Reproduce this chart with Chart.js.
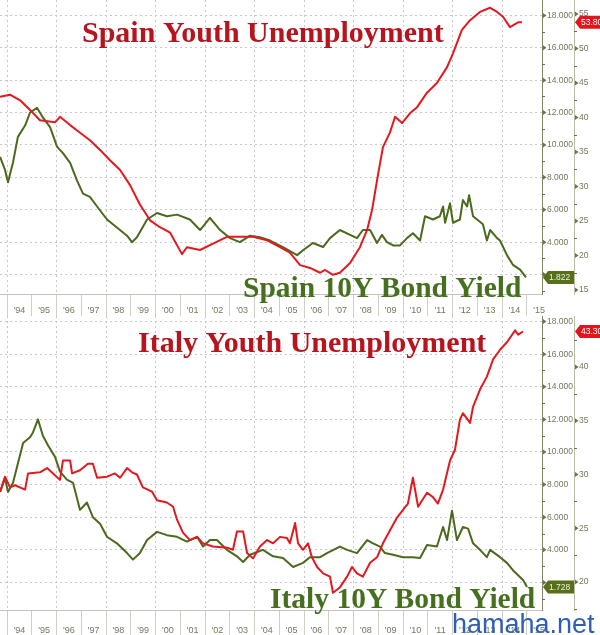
<!DOCTYPE html>
<html><head><meta charset="utf-8">
<script src="https://cdn.jsdelivr.net/npm/chart.js@4.4.1/dist/chart.umd.min.js"></script>
<style>
html,body{margin:0;padding:0;background:#fff;width:600px;height:635px;overflow:hidden}
canvas{position:absolute;left:0}
#top{top:0}
#bot{top:316px}
</style></head><body>
<canvas id="top" width="600" height="316"></canvas>
<canvas id="bot" width="600" height="319"></canvas>
<script>
// ---------------- DATA ----------------
const yearTickValues = [1994,1995,1996,1997,1998,1999,2000,2001,2002,2003,2004,2005,2006,2007,2008,2009,2010,2011,2012,2013,2014,2015];
const yearTickLabels = ["'94","'95","'96","'97","'98","'99","'00","'01","'02","'03","'04","'05","'06","'07","'08","'09","'10","'11","'12","'13","'14","'15"];

const spainUnempYears = [1993.72,1994.12,1994.53,1994.93,1995.33,1995.94,1996.14,1996.55,1996.95,1997.35,1997.76,1998.16,1998.57,1998.97,1999.37,1999.78,2000.18,2000.59,2001.07,2001.27,2001.80,2002.20,2002.89,2003.41,2003.94,2004.51,2005.03,2005.43,2005.84,2006.24,2006.65,2006.85,2007.17,2007.45,2007.86,2008.26,2008.55,2008.75,2008.95,2009.19,2009.47,2009.68,2009.96,2010.28,2010.57,2010.97,2011.37,2011.78,2012.02,2012.38,2012.71,2013.11,2013.52,2013.80,2014.04,2014.32,2014.65,2014.81];
const spainUnempRate = [43.0,43.3,42.5,41.1,39.6,39.3,40.1,38.9,37.8,36.7,35.3,33.8,32.4,30.2,27.4,25.1,24.1,23.3,20.2,21.2,20.8,21.5,22.7,22.7,22.7,22.2,21.2,20.4,18.6,18.2,17.5,17.9,17.2,17.5,18.9,21.2,23.7,26.6,30.9,35.7,37.8,40.1,39.2,40.6,41.5,43.6,45.0,47.3,49.3,52.7,54.1,55.3,55.9,55.3,54.6,53.1,53.8,53.8];

const spainYieldYears = [1993.72,1993.92,1994.04,1994.24,1994.44,1994.73,1994.93,1995.21,1995.45,1995.74,1996.02,1996.26,1996.55,1996.83,1997.07,1997.35,1997.64,1998.04,1998.44,1998.85,1999.05,1999.25,1999.66,2000.06,2000.46,2000.87,2001.39,2001.80,2002.20,2002.61,2003.01,2003.41,2003.82,2004.22,2004.63,2005.15,2005.72,2005.96,2006.36,2006.77,2007.05,2007.45,2007.86,2008.14,2008.38,2008.67,2008.95,2009.15,2009.35,2009.60,2009.88,2010.16,2010.40,2010.69,2010.89,2011.21,2011.49,2011.62,2011.70,2011.90,2012.02,2012.30,2012.42,2012.59,2012.67,2012.83,2013.23,2013.39,2013.52,2013.80,2013.92,2014.20,2014.44,2014.73,2014.97];
const spainYield = [9.26,8.46,7.7,8.9,10.5,11.2,12.0,12.3,11.7,11.1,9.9,9.5,8.9,7.8,7.0,6.8,6.2,5.4,4.9,4.4,4.0,4.3,5.4,5.8,5.6,5.7,5.4,4.75,5.5,4.75,4.25,4.0,4.4,4.3,4.1,3.7,3.2,3.5,3.95,3.7,4.25,4.75,4.45,4.25,4.75,4.75,3.95,4.45,4.0,3.8,3.8,4.25,4.55,4.1,5.6,5.4,5.6,6.2,5.2,6.4,5.2,5.4,6.6,6.2,6.9,5.6,5.1,4.1,4.75,4.25,4.1,3.2,2.6,2.3,1.822];

const italyUnempYears = [1993.72,1993.92,1994.12,1994.32,1994.73,1994.85,1995.33,1995.62,1995.86,1996.14,1996.26,1996.55,1996.63,1996.95,1997.27,1997.47,1997.64,1998.04,1998.36,1998.57,1998.85,1999.05,1999.25,1999.49,1999.86,2000.06,2000.46,2000.71,2000.87,2001.11,2001.39,2001.68,2001.92,2002.32,2002.89,2003.13,2003.29,2003.54,2003.70,2003.94,2004.22,2004.51,2004.75,2005.03,2005.31,2005.43,2005.64,2005.76,2005.96,2006.16,2006.32,2006.53,2006.77,2007.05,2007.17,2007.45,2007.74,2007.94,2008.14,2008.38,2008.67,2008.95,2009.19,2009.47,2009.76,2010.00,2010.20,2010.40,2010.61,2010.97,2011.21,2011.41,2011.62,2011.90,2012.10,2012.30,2012.42,2012.71,2012.83,2013.11,2013.39,2013.64,2013.92,2014.20,2014.53,2014.65,2014.85];
const italyUnempRate = [28.4,29.8,28.8,29.0,28.6,30.1,30.2,30.6,30.1,29.5,31.3,31.3,30.1,30.4,31.0,31.0,29.7,29.8,30.1,29.7,30.6,30.2,30.0,28.8,28.4,27.6,27.4,27.0,25.8,24.6,23.9,24.2,23.6,23.3,23.2,23.0,24.7,24.7,22.7,22.2,23.3,23.9,23.6,24.2,24.1,23.6,25.5,23.6,23.0,23.6,22.3,21.4,20.8,20.5,19.0,19.5,20.5,21.4,20.8,20.5,21.8,22.3,23.6,24.8,26.0,26.7,27.3,29.7,27.0,28.3,27.9,27.3,28.6,31.3,32.3,35.1,35.7,34.8,36.3,37.9,39.1,40.7,41.6,42.3,43.4,43.0,43.3];

const italyYieldYears = [1993.72,1993.92,1994.04,1994.24,1994.44,1994.65,1994.93,1995.05,1995.25,1995.45,1995.66,1995.94,1996.14,1996.42,1996.67,1996.95,1997.23,1997.47,1997.76,1998.04,1998.44,1998.85,1999.09,1999.37,1999.66,2000.06,2000.46,2000.87,2001.27,2001.68,2001.92,2002.20,2002.48,2002.89,2003.29,2003.54,2003.82,2004.34,2004.75,2005.15,2005.56,2005.96,2006.24,2006.65,2006.93,2007.45,2007.74,2008.14,2008.55,2008.79,2009.07,2009.27,2009.60,2010.00,2010.40,2010.69,2010.97,2011.37,2011.62,2011.78,2011.98,2012.18,2012.42,2012.63,2012.83,2013.11,2013.39,2013.52,2013.92,2014.20,2014.44,2014.85,2015.01];
const italyYield = [7.55,8.4,7.55,8.1,9.3,10.55,10.9,11.2,12.0,11.0,10.4,9.7,8.8,8.3,8.1,6.45,6.9,6.0,5.6,4.8,4.4,3.8,3.4,3.8,4.6,5.1,4.9,4.8,4.5,4.8,4.2,4.6,4.6,4.0,3.6,3.25,3.7,4.0,3.6,3.5,2.95,3.2,3.55,3.55,3.8,4.2,4.0,3.8,4.6,4.4,4.2,3.8,3.7,3.55,3.55,3.5,4.3,4.2,5.4,4.6,6.4,4.6,5.4,5.3,4.4,4.0,3.55,4.0,3.55,3.2,2.75,2.15,1.728];

const yieldMajorTicks = [2,4,6,8,10,12,14,16,18];
const yieldMinorTicks = [1,3,5,7,9,11,13,15,17];
const spainUnempMajorTicks = [15,20,25,30,35,40,45,50,55];
const spainUnempMinorTicks = [17.5,22.5,27.5,32.5,37.5,42.5,47.5,52.5];
const italyUnempMajorTicks = [20,25,30,35,40];
const italyUnempMinorTicks = [17.5,22.5,27.5,32.5,37.5,42.5];

// ---------------- STYLE ----------------
const RED = '#e3191f';
const GREEN = '#4b6a1d';
const TITLE_RED = '#b8141d';
const TITLE_GREEN = '#46701f';
const AXIS_TXT = '#76765a';
const TICK_FONT = {family:'"Liberation Sans", Arial, sans-serif', size:8.5};
const X_MIN = 1993.717, X_MAX = 2015.616;

function pts(xs, ys){ return xs.map((x,i)=>({x:x, y:ys[i]})); }

function makeDecor(d){
  return {
    id:'decor',
    afterDraw(chart){
      const ctx = chart.ctx;
      d.marks.forEach(m=>{
        const s = chart.scales[m.axis];
        ctx.save();
        ctx.fillStyle = m.color; ctx.strokeStyle = m.color; ctx.lineWidth = 1;
        m.major.forEach(v=>{
          const y = s.getPixelForValue(v);
          ctx.beginPath(); ctx.moveTo(s.left+1, y-2.5); ctx.lineTo(s.left+4.5, y); ctx.lineTo(s.left+1, y+2.5); ctx.closePath(); ctx.fill();
        });
        m.minor.forEach(v=>{
          const y = Math.round(s.getPixelForValue(v))+0.5;
          ctx.beginPath(); ctx.moveTo(s.left, y); ctx.lineTo(s.left+3, y); ctx.stroke();
        });
        ctx.restore();
      });
      d.titles.forEach(t=>{
        ctx.save(); ctx.font = t.font; ctx.fillStyle = t.color;
        ctx.textBaseline='alphabetic'; ctx.textAlign='left';
        ctx.fillText(t.text, t.x, t.y); ctx.restore();
      });
      d.tags.forEach(g=>{
        const s = chart.scales[g.axis];
        const y = s.getPixelForValue(g.value);
        const l = s.left + 1, r = s.right, h = 6.5;
        ctx.save(); ctx.fillStyle = g.bg;
        ctx.beginPath(); ctx.moveTo(l, y); ctx.lineTo(l+5, y-h); ctx.lineTo(r, y-h); ctx.lineTo(r, y+h); ctx.lineTo(l+5, y+h); ctx.closePath(); ctx.fill();
        ctx.fillStyle = g.fg; ctx.font = '8.5px "Liberation Sans", Arial, sans-serif';
        ctx.textBaseline='middle'; ctx.textAlign='left';
        ctx.fillText(g.text, l+6, y+0.5); ctx.restore();
      });
    }
  };
}

function makeChart(id, o){
  const lastYield = o.yY[o.yY.length-1];
  const lastUnemp = o.uY[o.uY.length-1];
  return new Chart(document.getElementById(id), {
    type:'line',
    data:{ datasets:[
      {data: pts(o.uX, o.uY), yAxisID:'u', borderColor:RED, borderWidth:2, pointRadius:0, tension:0, borderJoinStyle:'round'},
      {data: pts(o.yX, o.yY), yAxisID:'y', borderColor:GREEN, borderWidth:2, pointRadius:0, tension:0, borderJoinStyle:'round'}
    ]},
    options:{
      responsive:false, animation:false, events:[],
      layout:{padding:0},
      plugins:{legend:{display:false}, tooltip:{enabled:false}},
      scales:{
        x:{
          type:'linear', position:'bottom', min:X_MIN, max:X_MAX,
          afterBuildTicks: s=>{ s.ticks = yearTickValues.map(v=>({value:v})); },
          afterFit: s=>{ s.height = o.xH; s.paddingLeft = 0; s.paddingRight = 0; },
          ticks:{ autoSkip:false, maxRotation:0, minRotation:0, labelOffset:12.4, padding:o.xPad, color:AXIS_TXT, font:{family:'"Liberation Sans", Arial, sans-serif', size:9},
            callback: v=>{ const i = yearTickValues.indexOf(v); return i>=0 ? yearTickLabels[i] : ''; } },
          grid:{ color: c=> (c.tick && c.tick.value % 2 === 0) ? '#c8c8c8' : 'rgba(0,0,0,0)', lineWidth:1, tickColor:'#cfcfc4', tickLength:o.xH, tickBorderDash:[], drawTicks:true },
          border:{ display:true, color:'#c4c4bc', width:1, dash:[2,3] }
        },
        y:{
          type:'linear', position:'right', min:o.yMin, max:o.yMax,
          afterBuildTicks: s=>{ s.ticks = yieldMajorTicks.map(v=>({value:v})); },
          afterFit: s=>{ s.width = 32; s.paddingTop = 0; s.paddingBottom = 0; },
          ticks:{ padding:5, color:AXIS_TXT, font:TICK_FONT, callback: v=> (Math.abs(v - lastYield) < 0.7 ? '' : Number(v).toFixed(3)) },
          grid:{ color:'#c8c8c8', lineWidth:1, drawTicks:false },
          border:{ display:true, color:'#85856a', width:1, dash:[2,3] }
        },
        u:{
          type:'linear', position:'right', min:o.uMin, max:o.uMax,
          afterBuildTicks: s=>{ s.ticks = o.uMajor.map(v=>({value:v})); },
          afterFit: s=>{ s.width = 26; s.paddingTop = 0; s.paddingBottom = 0; },
          ticks:{ padding:5, color:AXIS_TXT, font:TICK_FONT, callback: v=> String(v) },
          grid:{ drawOnChartArea:false, drawTicks:false },
          border:{ display:true, color:'#bdbda6', width:1 }
        }
      }
    },
    plugins:[makeDecor({
      marks:[
        {axis:'y', major:yieldMajorTicks, minor:yieldMinorTicks, color:'#6f6f52'},
        {axis:'u', major:o.uMajor, minor:o.uMinor, color:'#6f6f52'}
      ],
      titles:o.titles,
      tags:[
        {axis:'u', value:lastUnemp, text:lastUnemp.toFixed(2), bg:'#e2141c', fg:'#ffffff'},
        {axis:'y', value:lastYield, text:lastYield.toFixed(3), bg:'#566f1a', fg:'#eef0d8'}
      ]
    })]
  });
}

const serif30 = 'bold 30px "Liberation Serif", "Times New Roman", serif';
const serif29 = 'bold 29.5px "Liberation Serif", "Times New Roman", serif';

makeChart('top', {
  uX:spainUnempYears, uY:spainUnempRate, yX:spainYieldYears, yY:spainYield,
  yMin:0.80, yMax:18.95, uMin:14.42, uMax:57.03,
  uMajor:spainUnempMajorTicks, uMinor:spainUnempMinorTicks,
  xH:22, xPad:-11,
  titles:[
    {text:'Spain Youth Unemployment', x:82, y:42, font:serif30, color:TITLE_RED},
    {text:'Spain 10Y Bond Yield', x:243, y:297, font:serif29, color:TITLE_GREEN}
  ]
});

makeChart('bot', {
  uX:italyUnempYears, uY:italyUnempRate, yX:italyYieldYears, yY:italyYield,
  yMin:0.31, yMax:18.34, uMin:17.40, uMax:44.74,
  uMajor:italyUnempMajorTicks, uMinor:italyUnempMinorTicks,
  xH:25, xPad:-10,
  titles:[
    {text:'Italy Youth Unemployment', x:138, y:36, font:serif30, color:TITLE_RED},
    {text:'Italy 10Y Bond Yield', x:270, y:292, font:serif29, color:TITLE_GREEN},
    {text:'hamaha.net', x:452, y:317, font:'27px "Liberation Sans", Arial, sans-serif', color:'#2f5fb3'}
  ]
});
</script>
</body></html>
